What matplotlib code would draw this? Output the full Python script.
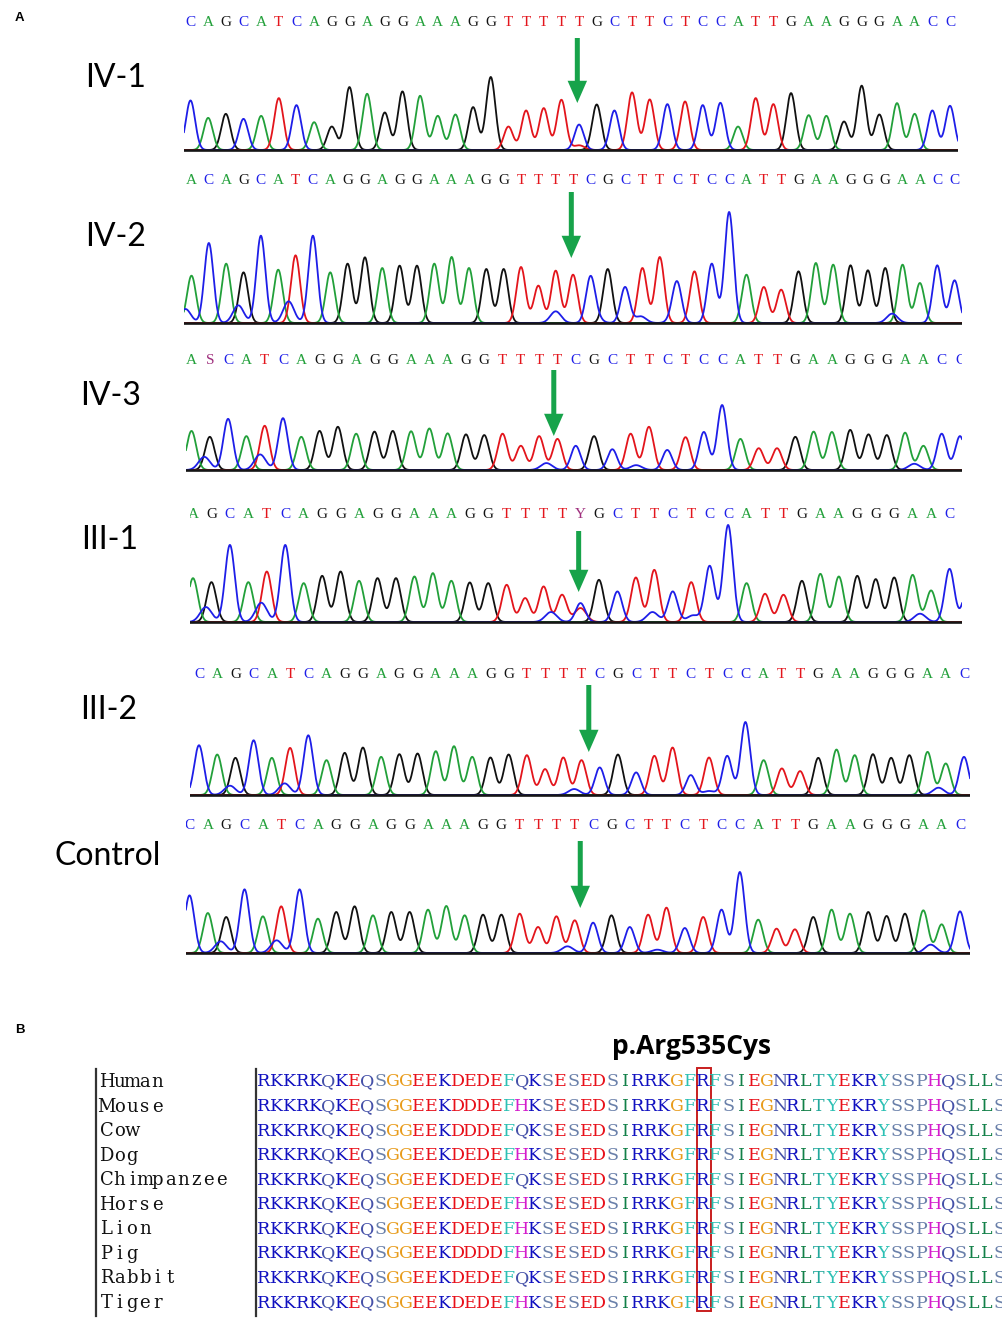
import numpy as np
import matplotlib.pyplot as plt
from matplotlib.patches import Rectangle

W, H = 1003, 1339

# ===== Panel A: sequencing traces =====
labels = ["IV-1", "IV-2", "IV-3", "III-1", "III-2", "Control"]

calls_iv1 = "CAGCATCAGGAGGAAAGGTTTTTGCTTCTCCATTGAAGGGAACC"
calls_iv2 = "ACAGCATCAGGAGGAAAGGTTTTCGCTTCTCCATTGAAGGGAACC"
calls_iv3 = "ASCATCAGGAGGAAAGGTTTTCGCTTCTCCATTGAAGGGAACC"
calls_iii1 = "AGCATCAGGAGGAAAGGTTTTYGCTTCTCCATTGAAGGGAACC"
calls_iii2 = "CAGCATCAGGAGGAAAGGTTTTCGCTTCTCCATTGAAGGGAAC"
calls_ctrl = "CAGCATCAGGAGGAAAGGTTTTCGCTTCTCCATTGAAGGGAAC"

# dominant trace channel under each call (differs from the call at ambiguous spots)
trace_iv1 = "CAGCATCAGGAGGAAAGGTTTTCGCTTCTCCATTGAAGGGAACC"
trace_iv3 = "AGCATCAGGAGGAAAGGTTTTCGCTTCTCCATTGAAGGGAACC"
trace_iii1 = "AGCATCAGGAGGAAAGGTTTTCGCTTCTCCATTGAAGGGAACC"

heights_iv1 = [148, 96, 108, 93, 102, 155, 134, 83, 70, 188, 168, 112, 175, 162, 102,
               106, 128, 218, 70, 118, 125, 150, 76, 136, 118, 172, 151, 137, 145, 134,
               141, 70, 155, 137, 170, 104, 102, 85, 192, 106, 140, 108, 118, 132]
heights_iv2 = [142, 240, 178, 152, 262, 160, 203, 262, 152, 178, 197, 165, 172, 172, 178,
               198, 165, 162, 162, 168, 112, 157, 145, 130, 162, 108, 165, 198, 100, 155,
               178, 333, 145, 108, 100, 155, 180, 175, 173, 158, 165, 175, 120, 173, 128]
heights_iv3 = [113, 96, 148, 98, 128, 150, 96, 113, 125, 105, 111, 113, 112, 120, 106,
               103, 101, 105, 70, 98, 90, 70, 98, 60, 105, 125, 58, 95, 110, 188,
               90, 63, 63, 96, 111, 110, 116, 103, 101, 108, 70, 105, 98]
heights_iii1 = [132, 120, 232, 120, 152, 232, 117, 139, 152, 124, 132, 132, 137, 147, 124,
                119, 117, 112, 72, 107, 82, 57, 127, 92, 134, 157, 92, 120, 169, 292,
                117, 85, 82, 124, 145, 137, 139, 129, 134, 142, 95, 160, 110]
heights_iii2 = [150, 122, 112, 165, 112, 142, 180, 105, 127, 143, 115, 123, 125, 132, 147,
                115, 113, 122, 120, 78, 113, 105, 83, 122, 68, 118, 143, 60, 113, 118,
                220, 105, 80, 72, 112, 137, 120, 123, 112, 120, 130, 95, 115]
heights_ctrl = [173, 120, 108, 191, 110, 140, 191, 103, 123, 140, 113, 123, 123, 130, 141,
                113, 115, 115, 118, 78, 110, 98, 91, 113, 78, 115, 136, 75, 108, 130,
                243, 100, 73, 71, 108, 130, 118, 123, 111, 118, 128, 86, 125]

# small secondary peaks: (position in bases, channel, height)
minor_iv1 = [(22.0, "T", 14)]
minor_iv2 = [(-0.35, "C", 42), (2.7, "C", 53), (5.6, "C", 65), (21.0, "C", 35),
             (23.3, "C", 18), (25.9, "C", 20), (27.9, "C", 27), (40.4, "C", 28)]
minor_iv3 = [(0.7, "C", 38), (3.75, "C", 45), (19.4, "C", 20), (24.3, "C", 14),
             (39.5, "C", 18)]
minor_iii1 = [(0.7, "C", 45), (3.7, "C", 58), (19.4, "C", 30), (21.0, "T", 42),
              (24.9, "C", 30), (27.1, "C", 20), (39.4, "C", 25)]
minor_iii2 = [(1.7, "C", 28), (4.7, "C", 35), (20.6, "C", 18), (28.0, "C", 12),
              (40.6, "C", 22)]
minor_ctrl = [(1.7, "C", 35), (4.75, "C", 38), (20.6, "C", 20), (25.5, "C", 10),
              (40.4, "C", 25)]

variant_pos = [21.9, 21.9, 19.8, 20.9, 21.4, 21.3]

# ===== Panel B: protein alignment =====
species = ["Human", "Mouse", "Cow", "Dog", "Chimpanzee", "Horse", "Lion", "Pig", "Rabbit", "Tiger"]
seq_human = "RKKRKQKEQSGGEEKDEDEFQKSESEDSIRRKGFRFSIEGNRLTYEKRYSSPHQSLLS"
seq_mouse = "RKKRKQKEQSGGEEKDDDEFHKSESEDSIRRKGFRFSIEGNRLTYEKRYSSPHQSLLS"
seq_cow = "RKKRKQKEQSGGEEKDDDEFQKSESEDSIRRKGFRFSIEGNRLTYEKRYSSPHQSLLS"
seq_dog = "RKKRKQKEQSGGEEKDEDEFHKSESEDSIRRKGFRFSIEGNRLTYEKRYSSPHQSLLS"
seq_chimp = "RKKRKQKEQSGGEEKDEDEFQKSESEDSIRRKGFRFSIEGNRLTYEKRYSSPHQSLLS"
seq_horse = "RKKRKQKEQSGGEEKDEDEFHKSESEDSIRRKGFRFSIEGNRLTYEKRYSSPHQSLLS"
seq_lion = "RKKRKQKEQSGGEEKDEDEFHKSESEDSIRRKGFRFSIEGNRLTYEKRYSSPHQSLLS"
seq_pig = "RKKRKQKEQSGGEEKDDDDFHKSESEDSIRRKGFRFSIEGNRLTYEKRYSSPHQSLLS"
seq_rabbit = "RKKRKQKEQSGGEEKDEDEFQKSESEDSIRRKGFRFSIEGNRLTYEKRYSSPHQSLLS"
seq_tiger = "RKKRKQKEQSGGEEKDEDEFHKSESEDSIRRKGFRFSIEGNRLTYEKRYSSPHQSLLS"
highlight_col = 34
mutation = "p.Arg535Cys"

base_colors = {"A": "#22a03a", "C": "#1e1ee8", "G": "#111111", "T": "#e3151c",
               "Y": "#a0307e", "S": "#a0307e"}
aa_colors = {"R": "#1010c0", "K": "#1010c0", "D": "#e8101a", "E": "#e8101a",
             "Q": "#4450a8", "N": "#4450a8", "S": "#6a80aa", "P": "#6a80aa",
             "T": "#22a89c", "F": "#2cc0b4", "Y": "#2cc0b4", "G": "#e89c1c",
             "H": "#d41ccc", "I": "#128048", "L": "#128048"}

# panel geometry in pixels:
# first peak x, last peak x, axis left, axis right, baseline y, tallest top y,
# letter row y, arrow tail y, arrow tip y, label x, label y
layout = [
    (190.5, 950.0, 184, 958, 150, 77, 23, 38, 103, 85, 78),
    (191.5, 954.6, 184, 962, 323, 212, 181, 192, 258, 85, 237),
    (191.5, 960.0, 186, 962, 470, 405, 361, 370, 436, 80, 396),
    (193.0, 968.0, 190, 962, 622, 525, 515, 531, 592, 81, 540),
    (199.0, 964.0, 190, 970, 795, 722, 674, 685, 752, 80, 710),
    (189.5, 960.0, 186, 970, 953, 872, 825, 841, 908, 55, 856),
]

panels = [
    (calls_iv1, trace_iv1, heights_iv1, minor_iv1),
    (calls_iv2, calls_iv2, heights_iv2, minor_iv2),
    (calls_iv3, trace_iv3, heights_iv3, minor_iv3),
    (calls_iii1, trace_iii1, heights_iii1, minor_iii1),
    (calls_iii2, calls_iii2, heights_iii2, minor_iii2),
    (calls_ctrl, calls_ctrl, heights_ctrl, minor_ctrl),
]

fig = plt.figure(figsize=(W / 100, H / 100), dpi=100)
fig.patch.set_facecolor("white")

fig.text(15 / W, 1 - 18 / H, "A", fontsize=9.5, fontweight="bold",
         family="Liberation Sans", ha="left", va="center")
fig.text(15 / W, 1 - 1030 / H, "B", fontsize=9.5, fontweight="bold",
         family="Liberation Sans", ha="left", va="center")

sigma = 0.26
for p, (calls, trace, heights, minor) in enumerate(panels):
    first, last, left, right, base, top, let_y, a_tail, a_tip, lab_x, lab_y = layout[p]
    n = len(heights)
    step = (last - first) / (n - 1)
    k = max(heights) / (base - top)
    x0, x1 = (left - first) / step, (right - first) / step
    y_lo, y_hi = -4 * k, (base - (let_y - 12)) * k

    ax = fig.add_axes([left / W, 1 - (base + 4) / H, (right - left) / W,
                       ((base + 4) - (let_y - 12)) / H])
    ax.set_xlim(x0, x1)
    ax.set_ylim(y_lo, y_hi)
    ax.axis("off")

    xs = np.linspace(x0 - 1, x1 + 1, 4000)
    for ch in ["G", "A", "T", "C"]:
        sig = np.zeros_like(xs)
        for i, (b, h) in enumerate(zip(trace, heights)):
            if b == ch:
                sig += h * np.exp(-(xs - i) ** 2 / (2 * sigma ** 2))
        for pos, b, h in minor:
            if b == ch:
                sig += h * np.exp(-(xs - pos) ** 2 / (2 * (sigma * 1.2) ** 2))
        ax.plot(xs, sig, color=base_colors[ch], lw=1.3, solid_joinstyle="round")
    ax.plot([x0, x1], [0, 0], color="#151515", lw=1.9)

    for i, b in enumerate(calls):
        ax.text(i, (base - let_y) * k, b, color=base_colors[b], fontsize=11,
                family="Liberation Serif", ha="center", va="center", clip_on=True)

    ax.annotate("", xy=(variant_pos[p], (base - a_tip) * k),
                xytext=(variant_pos[p], (base - a_tail) * k),
                arrowprops=dict(facecolor="#17a34a", edgecolor="none", width=3.6,
                                headwidth=14, headlength=16, shrink=0),
                annotation_clip=False)

    fig.text(lab_x / W, 1 - lab_y / H, labels[p], fontsize=23, family="Lato",
             ha="left", va="center")

# ----- alignment -----
seqs = [seq_human, seq_mouse, seq_cow, seq_dog, seq_chimp, seq_horse,
        seq_lion, seq_pig, seq_rabbit, seq_tiger]
col0_px, col_w = 264.0, 12.9
row0_py, row_h = 1082.0, 24.56
top_py, bot_py = 1055, 1325
axb = fig.add_axes([0, 1 - bot_py / H, 1, (bot_py - top_py) / H])
axb.set_xlim(-col0_px / col_w, (W - col0_px) / col_w)
axb.set_ylim((bot_py - row0_py) / row_h, (top_py - row0_py) / row_h)
axb.axis("off")

name_col = (106.4 - col0_px) / col_w
for r, (name, seq) in enumerate(zip(species, seqs)):
    for j, ch in enumerate(name):
        axb.text(name_col + j * 0.99, r, ch, fontsize=13, family="DejaVu Serif",
                 color="#111111", ha="center", va="center")
    for j, aa in enumerate(seq):
        axb.text(j, r, aa, fontsize=12.5, family="DejaVu Serif",
                 color=aa_colors[aa], ha="center", va="center")

bar_top, bar_bot = (1069 - row0_py) / row_h, (1316 - row0_py) / row_h
for bx in [(96 - col0_px) / col_w, (256 - col0_px) / col_w]:
    axb.plot([bx, bx], [bar_top, bar_bot], color="#333333", lw=1.6)

axb.add_patch(Rectangle((highlight_col - 0.45, -0.57), 1.1, len(species) - 0.1,
                        fill=False, edgecolor="#c81e1e", lw=1.4))

fig.text(692 / W, 1 - 1047 / H, mutation, fontsize=19, fontweight="bold",
         family="Open Sans", ha="center", va="center")

fig.savefig("out.png", dpi=100, facecolor="white")
